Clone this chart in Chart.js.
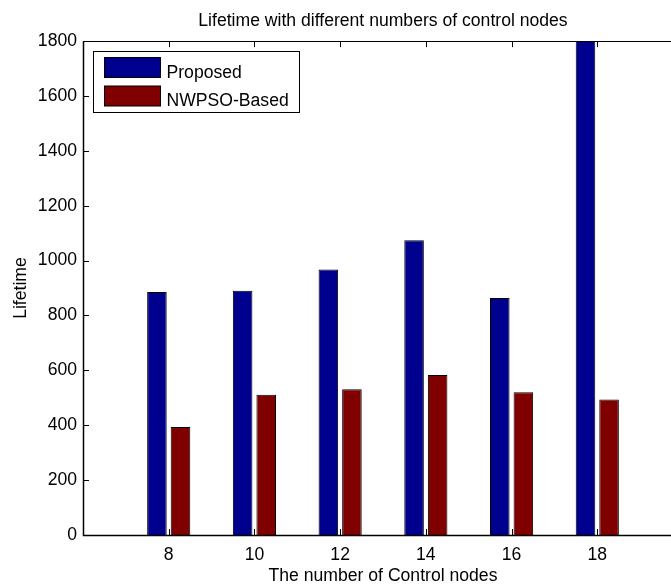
<!DOCTYPE html>
<html>
<head>
<meta charset="utf-8">
<script src="https://cdn.jsdelivr.net/npm/chart.js@4/dist/chart.umd.min.js"></script>
<style>
  html, body { margin: 0; padding: 0; overflow: hidden; background: #fff; width: 671px; height: 587px; }
  #wrap { position: absolute; left: 0; top: 0; width: 700px; height: 587px; }
</style>
</head>
<body>
<div id="wrap"><canvas id="c" width="700" height="587"></canvas></div>
<script>
// Number of control nodes (x categories)
const nodeCounts = [8, 10, 12, 14, 16, 18];
// Network lifetime per method
const proposedLifetime = [886, 890, 968, 1074, 864, 1800];
const nwpsoLifetime = [394, 511, 531, 583, 520, 494];
// Y-axis tick values
const yTickValues = [0, 200, 400, 600, 800, 1000, 1200, 1400, 1600, 1800];

const seriesNames = ['Proposed', 'NWPSO-Based'];
const seriesColors = ['rgb(0,0,143)', 'rgb(128,0,0)'];

const FONT_FAMILY = '"Liberation Sans", Arial, Helvetica, sans-serif';
const FONT_SIZE = 17.6;
const font = { family: FONT_FAMILY, size: FONT_SIZE, weight: 'normal' };

// Axes box with inward tick marks, drawn in the classic plotting style
const axesBox = {
  id: 'axesBox',
  beforeDatasetsDraw(chart) {
    const { ctx, chartArea: a, scales: { x, y } } = chart;
    const T = 6;
    ctx.save();
    ctx.strokeStyle = '#000';
    ctx.lineWidth = 1;
    ctx.beginPath();
    x.ticks.forEach(t => {
      const px = Math.round(x.getPixelForValue(t.value)) + 0.5;
      ctx.moveTo(px, a.top); ctx.lineTo(px, a.top + T);
      ctx.moveTo(px, a.bottom); ctx.lineTo(px, a.bottom - T);
    });
    y.ticks.forEach(t => {
      const py = Math.round(y.getPixelForValue(t.value)) + 0.5;
      ctx.moveTo(a.left, py); ctx.lineTo(a.left + T, py);
      ctx.moveTo(a.right, py); ctx.lineTo(a.right - T, py);
    });
    ctx.stroke();
    ctx.restore();
  },
  afterDatasetsDraw(chart) {
    const { ctx, chartArea: a } = chart;
    const l = Math.round(a.left) + 0.5, r = Math.round(a.right) + 0.5;
    const t = Math.round(a.top) + 0.5, b = Math.round(a.bottom) + 0.5;
    ctx.save();
    ctx.strokeStyle = '#000';
    ctx.lineWidth = 1;
    ctx.strokeRect(l, t, r - l, b - t);
    ctx.lineWidth = 1.5;
    ctx.beginPath();
    ctx.moveTo(l, t); ctx.lineTo(l, b); ctx.lineTo(r, b);
    ctx.stroke();
    ctx.restore();
  }
};

// Boxed legend placed inside the upper-left corner of the axes
const insetLegend = {
  id: 'insetLegend',
  afterDraw(chart) {
    const { ctx, chartArea: a } = chart;
    const bx = Math.round(a.left + 10) + 0.5;
    const by = Math.round(a.top + 9.5) + 0.5;
    const bw = 206, bh = 61;
    ctx.save();
    ctx.fillStyle = '#fff';
    ctx.fillRect(bx, by, bw, bh);
    ctx.strokeStyle = '#000';
    ctx.lineWidth = 1;
    ctx.strokeRect(bx, by, bw, bh);
    ctx.font = `${FONT_SIZE}px ${FONT_FAMILY}`;
    ctx.textAlign = 'left';
    ctx.textBaseline = 'alphabetic';
    chart.data.datasets.forEach((ds, i) => {
      const sy = by + 6 + i * 28.5;
      ctx.fillStyle = ds.backgroundColor;
      ctx.fillRect(bx + 11, sy, 56, 20);
      ctx.strokeStyle = '#000';
      ctx.strokeRect(bx + 11, sy, 56, 20);
      ctx.fillStyle = '#000';
      ctx.fillText(ds.label, bx + 73, sy + 20);
    });
    ctx.restore();
  }
};

const toPoints = vals => nodeCounts.map((n, i) => ({ x: n, y: vals[i] }));

new Chart(document.getElementById('c'), {
  type: 'bar',
  data: {
    datasets: [
      { label: seriesNames[0], data: toPoints(proposedLifetime), backgroundColor: seriesColors[0], borderColor: '#000', borderWidth: 1 },
      { label: seriesNames[1], data: toPoints(nwpsoLifetime), backgroundColor: seriesColors[1], borderColor: '#000', borderWidth: 1 }
    ]
  },
  options: {
    responsive: false,
    animation: false,
    devicePixelRatio: 1,
    categoryPercentage: 0.55,
    barPercentage: 0.83,
    layout: { padding: { left: 0, right: 17, top: 0, bottom: 0 } },
    plugins: {
      legend: { display: false },
      tooltip: { enabled: false },
      title: {
        display: true,
        fullSize: false,
        text: 'Lifetime with different numbers of control nodes',
        color: '#000',
        font: font,
        padding: { top: 10.5, bottom: 9.5 }
      }
    },
    scales: {
      x: {
        type: 'linear',
        min: 6,
        max: 20,
        offset: false,
        grid: { display: false, drawTicks: false },
        border: { display: false },
        afterBuildTicks: s => { s.ticks = nodeCounts.map(v => ({ value: v })); },
        afterFit: s => { s.height = 52; },
        ticks: { color: '#000', font: font, padding: 10, maxRotation: 0, callback: v => String(v) },
        title: { display: true, text: 'The number of Control nodes', color: '#000', font: font, padding: { top: 0, bottom: 0 } }
      },
      y: {
        min: 0,
        max: 1800,
        grid: { display: false, drawTicks: false },
        border: { display: false },
        afterBuildTicks: s => { s.ticks = yTickValues.map(v => ({ value: v })); },
        afterFit: s => { s.width = 83; },
        ticks: { color: '#000', font: font, padding: 6, callback: v => String(v) },
        title: { display: true, text: 'Lifetime', color: '#000', font: font, padding: { top: 10.4, bottom: 0 } }
      }
    }
  },
  plugins: [axesBox, insetLegend]
});
</script>
</body>
</html>
